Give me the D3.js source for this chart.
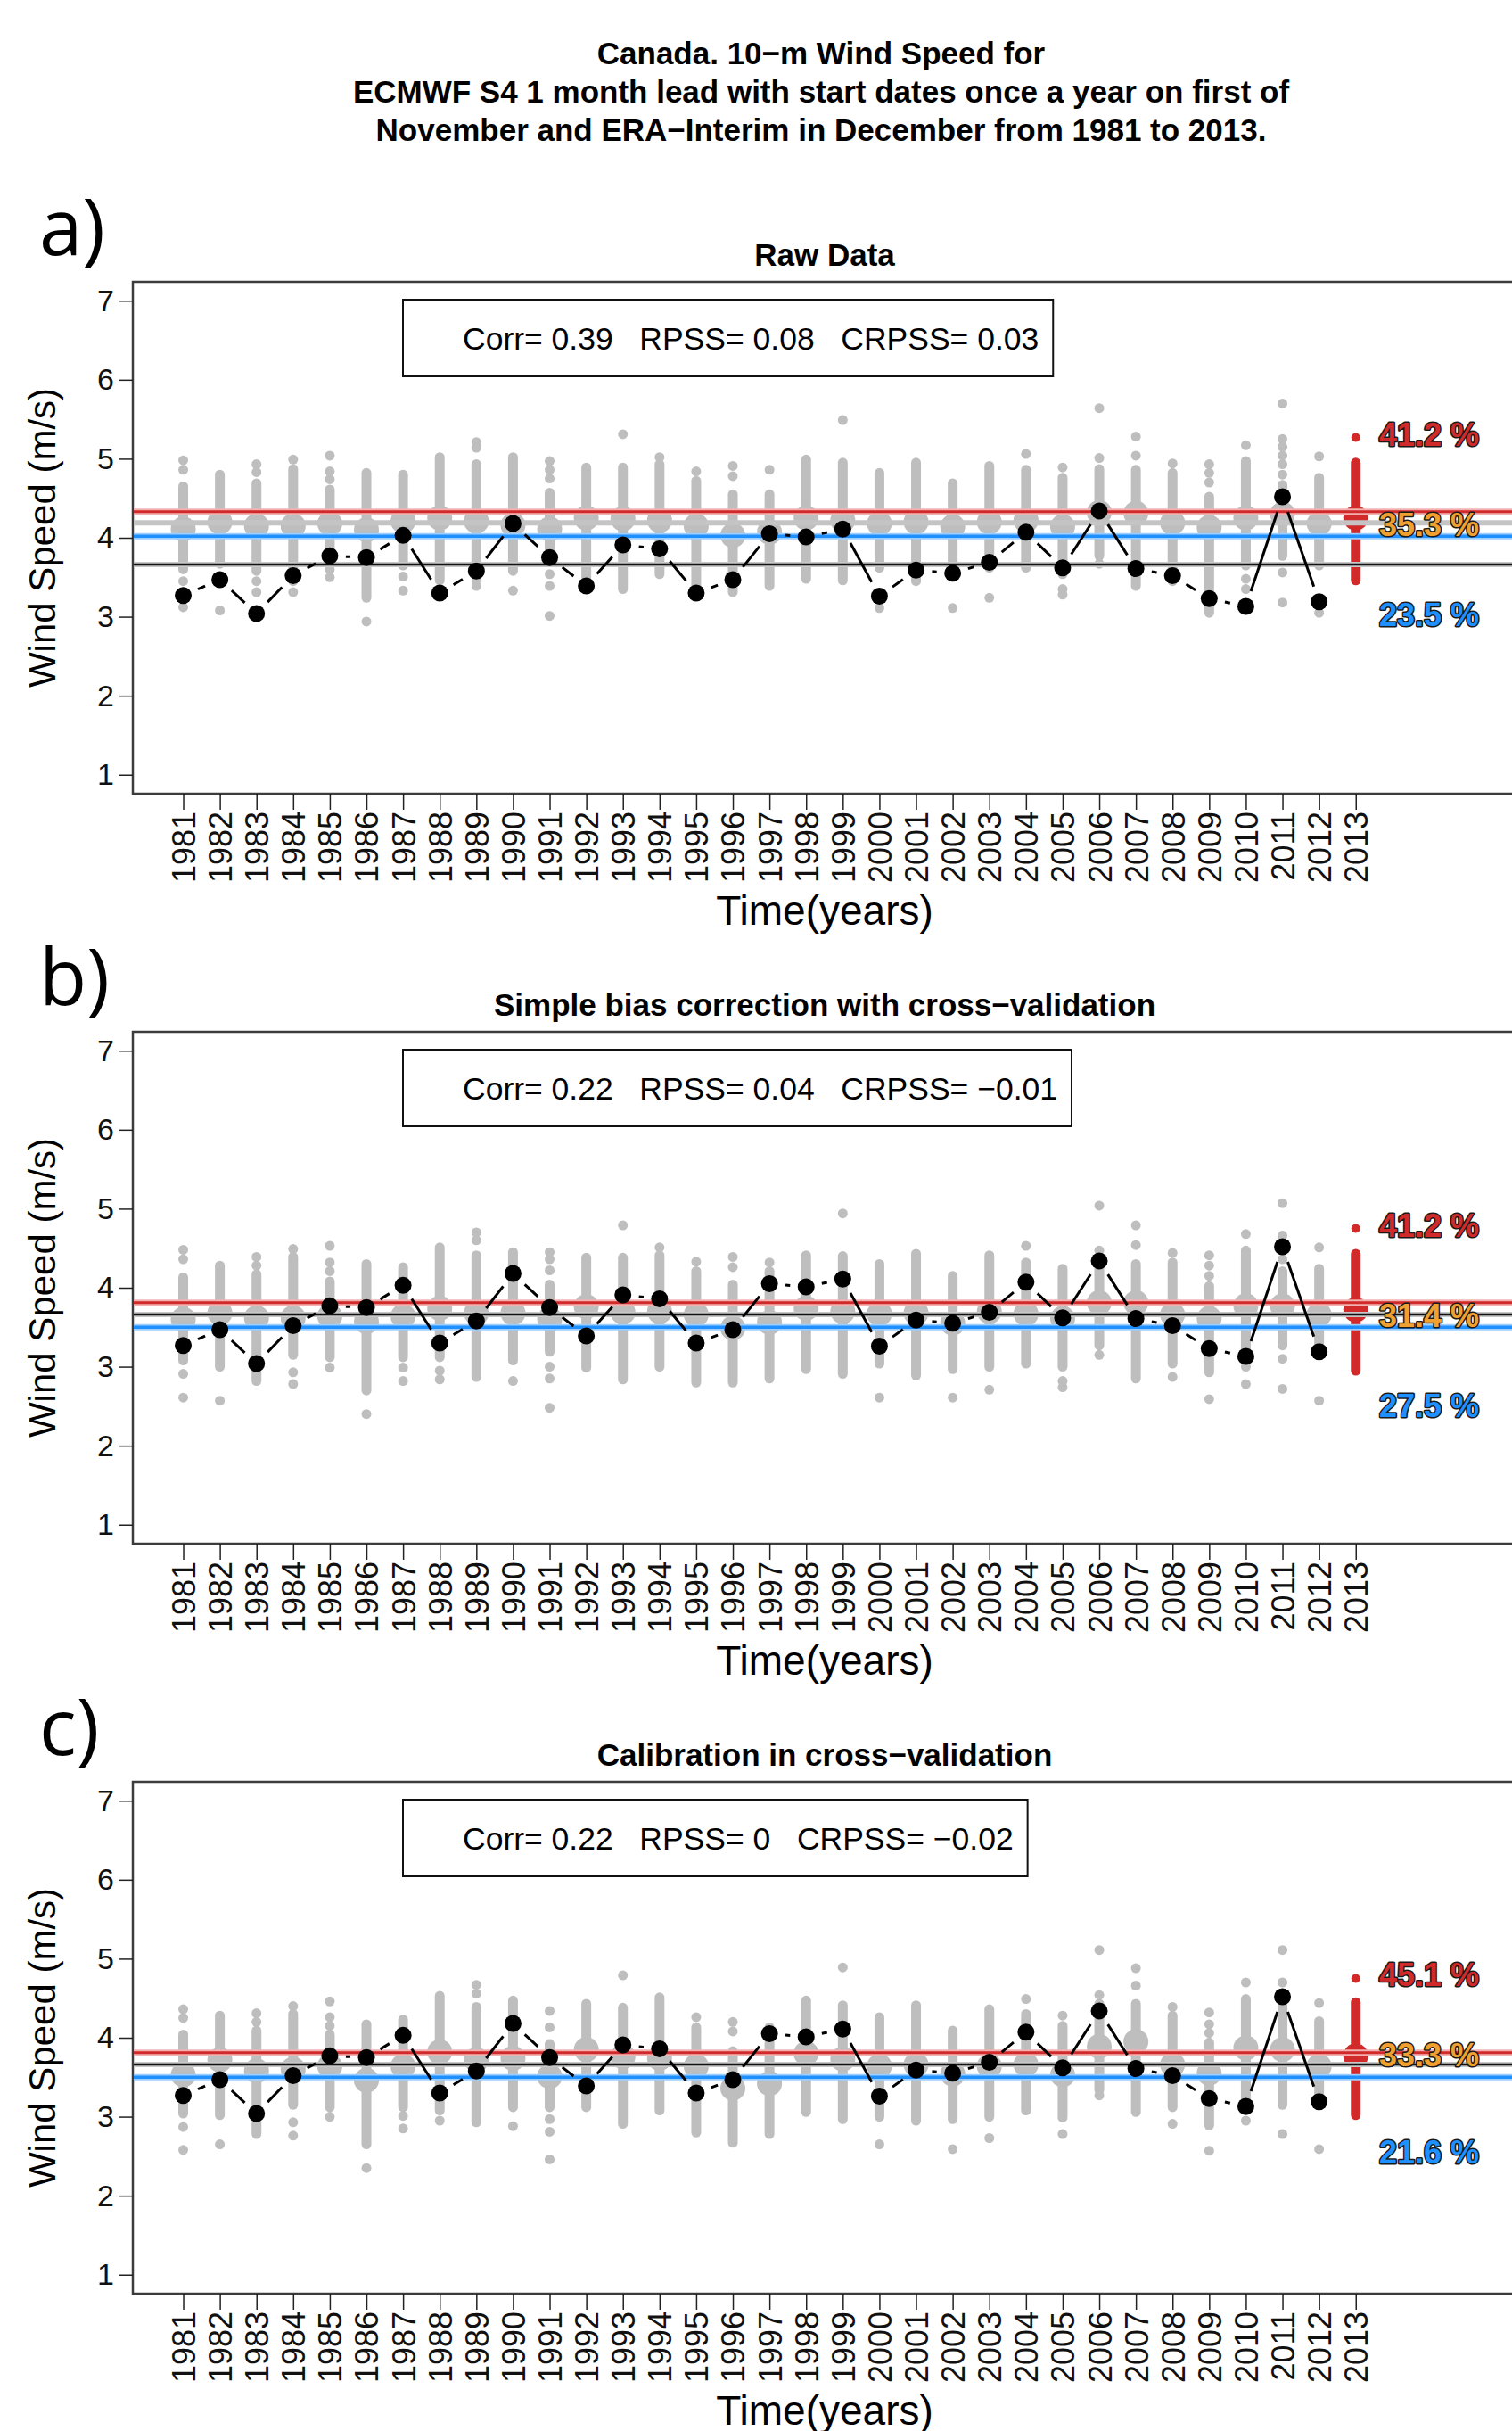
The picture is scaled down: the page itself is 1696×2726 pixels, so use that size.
<!DOCTYPE html>
<html>
<head>
<meta charset="utf-8">
<script src="https://cdn.jsdelivr.net/npm/d3@7"></script>
<style>
  body { margin: 0; background: #fff; }
  text { font-family: "Liberation Sans", Arial, Helvetica, sans-serif; }
</style>
</head>
<body>
<script>
// years on the x axis (2013 is the forecast year, no observation yet)
const years = [1981, 1982, 1983, 1984, 1985, 1986, 1987, 1988, 1989, 1990, 1991, 1992, 1993, 1994, 1995, 1996,
               1997, 1998, 1999, 2000, 2001, 2002, 2003, 2004, 2005, 2006, 2007, 2008, 2009, 2010, 2011, 2012, 2013];
const hindYears = years.slice(0, 32);

// ERA-Interim observations (black dots), same in every panel
const obs = [3.27, 3.47, 3.04, 3.52, 3.77, 3.75, 4.03, 3.30, 3.58, 4.18, 3.75, 3.39, 3.91, 3.86, 3.30, 3.47,
             4.05, 4.01, 4.11, 3.26, 3.59, 3.55, 3.69, 4.07, 3.62, 4.34, 3.61, 3.52, 3.23, 3.13, 4.52, 3.19];

// ---- a) raw data ----
const rawMean = [4.11, 4.20, 4.15, 4.15, 4.18, 4.10, 4.21, 4.25, 4.21, 4.16, 4.11, 4.25, 4.24, 4.22, 4.15, 4.03,
                 4.07, 4.25, 4.22, 4.18, 4.20, 4.14, 4.20, 4.22, 4.14, 4.32, 4.31, 4.19, 4.13, 4.25, 4.30, 4.18];
const rawTop = [4.65, 4.80, 4.69, 4.87, 4.61, 4.82, 4.80, 5.02, 4.93, 5.02, 4.57, 4.89, 4.89, 4.93, 4.72, 4.55,
                4.55, 4.99, 4.95, 4.82, 4.95, 4.69, 4.91, 4.86, 4.76, 4.87, 4.86, 4.82, 4.52, 4.97, 4.67, 4.76];
const rawBottom = [3.60, 3.67, 3.58, 3.62, 3.69, 3.24, 3.65, 3.46, 3.69, 3.58, 3.69, 3.50, 3.35, 3.54, 3.35, 3.31,
                   3.39, 3.48, 3.46, 3.62, 3.45, 3.62, 3.62, 3.62, 3.54, 3.77, 3.39, 3.45, 3.05, 3.65, 3.77, 3.65];
const rawExtra = [[4.98, 4.86, 3.45, 3.31, 3.12], [3.08], [4.93, 4.83, 3.45, 3.31], [4.99, 3.45, 3.31],
                  [5.04, 4.84, 4.74, 3.60, 3.50], [2.94], [3.51, 3.33], [], [5.21, 5.14, 3.47, 3.39], [3.33],
                  [4.97, 4.86, 4.75, 3.54, 3.39, 3.01], [], [5.31], [5.02], [4.84], [4.91, 4.78],
                  [4.86], [], [5.49], [3.11], [], [3.11], [3.24], [5.06], [4.89, 3.35, 3.28], [5.64, 5.01, 3.67],
                  [5.28, 5.04], [4.94], [4.93, 4.82, 4.70], [5.17, 3.48, 3.35],
                  [5.70, 5.25, 5.15, 5.04, 4.93, 4.80, 3.56, 3.18], [5.03, 3.05]];
const rawForecast = { top: 4.95, bottom: 3.46, mean: 4.25, extra: [5.27] };
const rawLevels = { upper: 4.33, ensMean: 4.19, lower: 4.02, obsMean: 3.66 };
const rawPct = ["41.2 %", "35.3 %", "23.5 %"];
const rawPctAt = [5.31, 4.17, 3.02];

// ---- b) simple bias correction ----
const bcMean = [3.60, 3.68, 3.62, 3.62, 3.64, 3.57, 3.64, 3.74, 3.68, 3.68, 3.60, 3.76, 3.69, 3.70, 3.66, 3.49,
                3.56, 3.74, 3.70, 3.67, 3.68, 3.55, 3.70, 3.67, 3.61, 3.81, 3.81, 3.66, 3.61, 3.77, 3.77, 3.66];
const bcTop = [4.13, 4.28, 4.17, 4.39, 4.08, 4.30, 4.26, 4.51, 4.41, 4.45, 4.04, 4.38, 4.38, 4.41, 4.21, 4.04,
               4.21, 4.41, 4.40, 4.30, 4.43, 4.15, 4.41, 4.32, 4.24, 4.36, 4.30, 4.32, 4.02, 4.47, 4.21, 4.24];
const bcBottom = [3.08, 3.00, 2.82, 3.15, 3.12, 2.70, 3.12, 3.12, 2.87, 3.08, 3.19, 2.99, 2.84, 3.00, 2.80, 2.80,
                  2.85, 2.97, 2.91, 3.04, 2.89, 2.97, 3.00, 3.04, 3.00, 3.27, 2.85, 3.04, 2.93, 3.19, 3.27, 3.23];
const bcExtra = [[4.48, 4.36, 2.91, 2.61], [2.57], [4.39, 4.28], [4.49, 2.93, 2.78], [4.53, 4.32, 4.21, 2.99],
                 [2.40], [2.99, 2.82], [2.95, 2.84], [4.70, 4.60], [2.82], [4.45, 4.36, 4.22, 3.00, 2.85, 2.48],
                 [], [4.79], [4.51], [4.33], [4.39, 4.26],
                 [4.32], [], [4.94], [2.61], [], [2.61], [2.71], [4.53], [2.82, 2.74], [5.04, 4.47, 3.15],
                 [4.79, 4.54], [4.44, 2.87], [4.41, 4.28, 4.15, 2.59], [4.68, 3.00, 2.78],
                 [5.07, 4.66, 4.51, 4.36, 3.10, 2.72], [4.51, 2.57]];
const bcForecast = { top: 4.43, bottom: 2.95, mean: 3.72, extra: [4.75] };
const bcLevels = { upper: 3.81, ensMean: 3.66, lower: 3.50, obsMean: 3.66 };
const bcPct = ["41.2 %", "31.4 %", "27.5 %"];
const bcPctAt = [4.79, 3.64, 2.50];

// ---- c) calibration ----
const calMean = [3.53, 3.72, 3.58, 3.60, 3.64, 3.46, 3.64, 3.82, 3.72, 3.74, 3.51, 3.85, 3.76, 3.74, 3.64, 3.36,
                 3.42, 3.80, 3.73, 3.64, 3.66, 3.54, 3.64, 3.66, 3.53, 3.89, 3.95, 3.66, 3.55, 3.87, 3.85, 3.64];
const calTop = [4.04, 4.28, 4.09, 4.30, 4.04, 4.17, 4.23, 4.53, 4.39, 4.47, 3.92, 4.43, 4.38, 4.51, 4.13, 3.83,
                4.13, 4.47, 4.41, 4.26, 4.41, 4.09, 4.36, 4.30, 4.15, 4.43, 4.43, 4.28, 3.94, 4.49, 4.51, 4.21];
const calBottom = [3.04, 3.02, 2.78, 3.15, 3.12, 2.65, 3.12, 3.08, 2.93, 3.12, 3.12, 3.12, 2.91, 3.08, 2.80, 2.67,
                   2.78, 3.06, 2.97, 3.00, 2.95, 2.97, 3.00, 3.08, 2.99, 3.34, 3.06, 3.12, 2.89, 3.08, 3.15, 3.19];
const calExtra = [[4.36, 4.25, 2.87, 2.58], [2.65], [4.31, 4.20], [4.40, 2.93, 2.76], [4.46, 4.26, 4.15, 3.00],
                  [2.35], [3.01, 2.85], [2.95], [4.67, 4.56], [2.88], [4.34, 4.13, 2.97, 2.81, 2.46],
                  [], [4.79], [], [4.26], [4.20, 4.08],
                  [], [], [4.89], [2.65], [], [2.59], [2.73], [4.49], [4.28, 2.78], [5.11, 4.54, 3.27],
                  [4.88, 4.66], [4.39, 2.91], [4.32, 4.17, 4.06, 2.57], [4.70, 2.95],
                  [5.11, 4.70, 2.78], [4.44, 2.59]];
const calForecast = { top: 4.45, bottom: 3.02, mean: 3.77, extra: [4.75] };
const calLevels = { upper: 3.81, ensMean: 3.66, lower: 3.50, obsMean: 3.66 };
const calPct = ["45.1 %", "33.3 %", "21.6 %"];
const calPctAt = [4.80, 3.78, 2.55];

const titleLines = ["Canada. 10\u2212m Wind Speed for",
                    "ECMWF S4 1 month lead with start dates once a year on first of",
                    "November and ERA\u2212Interim in December from 1981 to 2013."];
const yTicks = [1, 2, 3, 4, 5, 6, 7];

const panels = [
  { tag: "a)", title: "Raw Data", stats: "Corr= 0.39   RPSS= 0.08   CRPSS= 0.03",
    mean: rawMean, top: rawTop, bottom: rawBottom, extra: rawExtra, fc: rawForecast,
    lev: rawLevels, pct: rawPct, pctAt: rawPctAt },
  { tag: "b)", title: "Simple bias correction with cross\u2212validation", stats: "Corr= 0.22   RPSS= 0.04   CRPSS= \u22120.01",
    mean: bcMean, top: bcTop, bottom: bcBottom, extra: bcExtra, fc: bcForecast,
    lev: bcLevels, pct: bcPct, pctAt: bcPctAt },
  { tag: "c)", title: "Calibration in cross\u2212validation", stats: "Corr= 0.22   RPSS= 0   CRPSS= \u22120.02",
    mean: calMean, top: calTop, bottom: calBottom, extra: calExtra, fc: calForecast,
    lev: calLevels, pct: calPct, pctAt: calPctAt }
];

const W = 1696, H = 2726;
const GRAY = "#bebebe", RED = "#d12a2a", BLUE = "#1e90ff", ORANGE = "#f0a030";

const svg = d3.select("body").append("svg").attr("width", W).attr("height", H);
svg.append("rect").attr("width", W).attr("height", H).attr("fill", "#fff");

// main title
svg.append("g").selectAll("text").data(titleLines).join("text")
  .attr("x", 921).attr("y", (d, i) => 72 + i * 43)
  .attr("text-anchor", "middle")
  .style("font-size", "35px").style("font-weight", "bold")
  .text(d => d);

const x = d3.scaleLinear().domain([1979.625, 2017.5]).range([149, 1705.7]);
const y = d3.scaleLinear().domain([0.76, 7.24]).range([890, 316]);

panels.forEach((p, pi) => {
  const g = svg.append("g").attr("transform", `translate(0,${pi * 841})`);

  g.append("text").attr("x", 44).attr("y", 286)
    .style("font-family", "'Open Sans', sans-serif").style("font-size", "87px")
    .text(p.tag);

  g.append("text").attr("x", 925).attr("y", 298).attr("text-anchor", "middle")
    .style("font-size", "35px").style("font-weight", "bold").text(p.title);

  // plot frame (right side runs off the page)
  g.append("rect").attr("x", 149).attr("y", 316).attr("width", 1600).attr("height", 574)
    .attr("fill", "none").attr("stroke", "#3c3c3c").attr("stroke-width", 2.5);

  // score legend box
  const leg = g.append("g");
  const st = leg.append("text").attr("x", 519).attr("y", 392)
    .style("white-space", "pre").style("font-size", "35.5px").text(p.stats);
  const tw = st.node().getComputedTextLength();
  leg.insert("rect", "text").attr("x", 452).attr("y", 336)
    .attr("width", 519 + tw + 16 - 452).attr("height", 86)
    .attr("fill", "#fff").attr("stroke", "#111").attr("stroke-width", 2);

  // axes
  const ya = g.append("g").attr("transform", "translate(149,0)")
    .call(d3.axisLeft(y).tickValues(yTicks).tickSize(16).tickPadding(5).tickFormat(d3.format("d")));
  ya.select(".domain").remove();
  ya.selectAll("line").attr("stroke", "#222").attr("stroke-width", 1.5);
  ya.selectAll("text").style("font-size", "34px").attr("fill", "#111");

  const xa = g.append("g").attr("transform", "translate(0,890)")
    .call(d3.axisBottom(x).tickValues(years).tickSize(18).tickFormat(d3.format("d")));
  xa.select(".domain").remove();
  xa.selectAll("line").attr("stroke", "#222").attr("stroke-width", 1.5);
  xa.selectAll("text")
    .attr("transform", "rotate(-90)").attr("x", -20).attr("y", 0).attr("dy", "0.36em")
    .style("text-anchor", "end").style("font-size", "36px").attr("fill", "#111");

  g.append("text").attr("transform", "translate(62,603) rotate(-90)").attr("text-anchor", "middle")
    .style("font-size", "42px").text("Wind Speed (m/s)");
  g.append("text").attr("x", 925).attr("y", 1037).attr("text-anchor", "middle")
    .style("font-size", "46px").text("Time(years)");

  // ensemble members (grey)
  const ens = g.append("g");
  ens.selectAll("line.dense").data(hindYears).join("line").attr("class", "dense")
    .attr("x1", d => x(d)).attr("x2", d => x(d))
    .attr("y1", (d, i) => y(p.top[i])).attr("y2", (d, i) => y(p.bottom[i]))
    .attr("stroke", GRAY).attr("stroke-width", 11).attr("stroke-linecap", "round");
  const extraPts = hindYears.flatMap((yr, i) => p.extra[i].map(v => ({ yr, v })));
  ens.selectAll("circle.extra").data(extraPts).join("circle").attr("class", "extra")
    .attr("cx", d => x(d.yr)).attr("cy", d => y(d.v)).attr("r", 5.5).attr("fill", GRAY);
  ens.selectAll("circle.mean").data(hindYears).join("circle").attr("class", "mean")
    .attr("cx", d => x(d)).attr("cy", (d, i) => y(p.mean[i])).attr("r", 14).attr("fill", GRAY);

  // forecast 2013 (red)
  const fx = x(years[32]);
  g.append("line").attr("x1", fx).attr("x2", fx).attr("y1", y(p.fc.top)).attr("y2", y(p.fc.bottom))
    .attr("stroke", RED).attr("stroke-width", 11).attr("stroke-linecap", "round");
  g.selectAll("circle.fcx").data(p.fc.extra).join("circle").attr("class", "fcx")
    .attr("cx", fx).attr("cy", d => y(d)).attr("r", 5).attr("fill", RED);
  g.append("circle").attr("cx", fx).attr("cy", y(p.fc.mean)).attr("r", 14).attr("fill", RED);

  // climatology / tercile lines
  const hline = (v, col, w) => g.append("line").attr("x1", 150).attr("x2", W)
    .attr("y1", y(v)).attr("y2", y(v)).attr("stroke", col).attr("stroke-width", w);
  hline(p.lev.ensMean, "#c4c4c4", 6);
  hline(p.lev.obsMean, "#c8c8c8", 6);
  hline(p.lev.obsMean, "#111", 2.5);
  hline(p.lev.upper, "#f3b0b0", 7);
  hline(p.lev.upper, RED, 3);
  hline(p.lev.lower, "#9ccdff", 7);
  hline(p.lev.lower, BLUE, 3.5);

  // observations: points joined by lines with gaps (type "b")
  const pts = hindYears.map((yr, i) => [x(yr), y(obs[i])]);
  const gap = 18;
  const segs = d3.pairs(pts).map(([a, b]) => {
    const dx = b[0] - a[0], dy = b[1] - a[1], L = Math.hypot(dx, dy);
    return { a, b, L, ux: dx / L, uy: dy / L };
  }).filter(s => s.L > 2 * gap);
  g.selectAll("line.obs").data(segs).join("line").attr("class", "obs")
    .attr("x1", s => s.a[0] + s.ux * gap).attr("y1", s => s.a[1] + s.uy * gap)
    .attr("x2", s => s.b[0] - s.ux * gap).attr("y2", s => s.b[1] - s.uy * gap)
    .attr("stroke", "#000").attr("stroke-width", 3);
  g.selectAll("circle.obs").data(pts).join("circle").attr("class", "obs")
    .attr("cx", d => d[0]).attr("cy", d => d[1]).attr("r", 9.5).attr("fill", "#000");

  // tercile probabilities for the forecast
  const cols = [RED, ORANGE, BLUE];
  g.selectAll("text.pct").data(p.pct).join("text").attr("class", "pct")
    .attr("x", 1547).attr("y", (d, i) => y(p.pctAt[i])).attr("dy", "0.35em")
    .style("font-size", "36px").style("font-weight", "bold")
    .attr("fill", (d, i) => cols[i]).attr("stroke", "#1a1a1a").attr("stroke-width", 3)
    .attr("paint-order", "stroke").attr("stroke-linejoin", "round")
    .text(d => d);
});
</script>
</body>
</html>
